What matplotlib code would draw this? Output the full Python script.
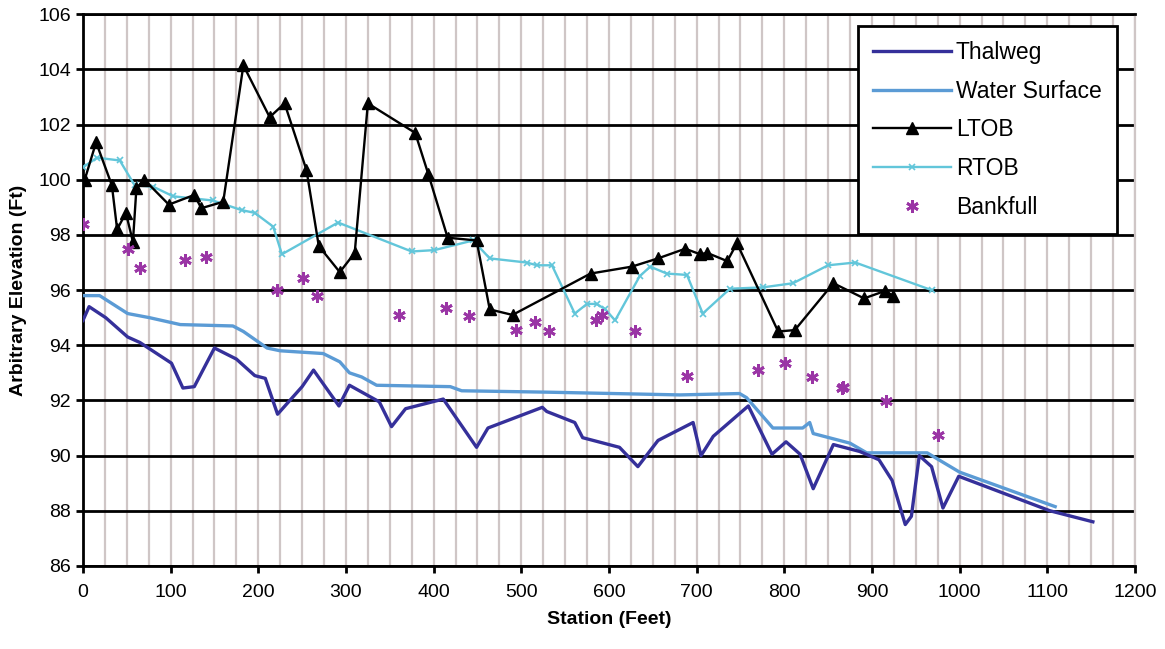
import numpy as np
import matplotlib.pyplot as plt
from matplotlib.ticker import MultipleLocator

plt.rcParams['font.family'] = ['Liberation Sans', 'DejaVu Sans']

# station (ft) / elevation (ft)
thalweg_x = [0, 7, 26, 51, 65, 101, 114, 127, 150, 175, 196, 208, 222, 250, 263, 292, 304,
             338, 352, 368, 411, 449, 462, 524, 529, 561, 570, 612, 633, 656, 696, 705, 719,
             759, 786, 802, 818, 833, 856, 886, 908, 923, 938, 945, 954, 968, 981, 999, 1103, 1152]
thalweg_y = [94.9, 95.4, 95.0, 94.3, 94.1, 93.35, 92.45, 92.5, 93.9, 93.5, 92.9, 92.8, 91.5, 92.5,
             93.1, 91.8, 92.55, 91.95, 91.05, 91.7, 92.05, 90.3, 91.0, 91.75, 91.6, 91.2, 90.65,
             90.3, 89.6, 90.55, 91.2, 90.0, 90.7, 91.8, 90.05, 90.5, 90.05, 88.8, 90.4, 90.15,
             89.85, 89.1, 87.5, 87.8, 90.0, 89.6, 88.1, 89.25, 88.0, 87.6]

water_x = [0, 19, 51, 76, 111, 171, 183, 210, 225, 274, 293, 304, 318, 335, 419, 432, 529, 681,
           749, 757, 787, 821, 829, 833, 875, 894, 932, 963, 1000, 1109]
water_y = [95.8, 95.8, 95.15, 95.0, 94.75, 94.7, 94.5, 93.9, 93.8, 93.7, 93.4, 93.0, 92.85, 92.55,
           92.5, 92.35, 92.3, 92.2, 92.25, 92.1, 91.0, 91.0, 91.2, 90.8, 90.45, 90.1, 90.1, 90.1,
           89.4, 88.15]

ltob_x = [2, 15, 33, 39, 49, 57, 61, 70, 98, 127, 135, 160, 183, 213, 230, 255, 269, 293, 310,
          325, 379, 394, 416, 449, 464, 490, 579, 626, 656, 687, 704, 712, 735, 746, 793, 812,
          856, 891, 915, 924]
ltob_y = [100.0, 101.36, 99.8, 98.2, 98.8, 97.75, 99.7, 100.0, 99.1, 99.45, 98.97, 99.2, 104.15,
          102.27, 102.77, 100.35, 97.6, 96.65, 97.35, 102.77, 101.7, 100.2, 97.9, 97.8, 95.3,
          95.1, 96.6, 96.85, 97.15, 97.5, 97.3, 97.35, 97.05, 97.7, 94.5, 94.55, 96.25, 95.7,
          95.97, 95.8]

rtob_x = [0, 16, 42, 59, 80, 103, 148, 181, 196, 217, 227, 291, 375, 401, 445, 464, 506, 518,
          535, 561, 575, 586, 596, 607, 635, 647, 666, 689, 707, 738, 776, 810, 850, 881, 968]
rtob_y = [100.45, 100.8, 100.7, 99.8, 99.75, 99.4, 99.25, 98.9, 98.8, 98.3, 97.3, 98.45, 97.4,
          97.45, 97.8, 97.15, 97.0, 96.9, 96.9, 95.15, 95.5, 95.5, 95.3, 94.9, 96.5, 96.85, 96.6,
          96.55, 95.15, 96.05, 96.1, 96.25, 96.9, 97.0, 96.0]

bank_x = [0, 51, 65, 116, 140, 221, 251, 267, 360, 414, 440, 494, 516, 532, 585, 592, 630, 689,
          770, 801, 832, 866, 867, 916, 975]
bank_y = [98.4, 97.5, 96.8, 97.1, 97.2, 96.0, 96.45, 95.8, 95.1, 95.35, 95.05, 94.55, 94.85, 94.5,
          94.9, 95.1, 94.5, 92.9, 93.1, 93.35, 92.85, 92.45, 92.5, 91.98, 90.75]

fig = plt.figure(figsize=(11.65, 6.49), dpi=100)
ax = fig.add_axes([0.0712, 0.128, 0.903, 0.850])

ax.plot(thalweg_x, thalweg_y, color='#35309A', lw=2.4, label='Thalweg', zorder=4)
ax.plot(water_x, water_y, color='#5B9BD5', lw=2.4, label='Water Surface', zorder=3)
ax.plot(ltob_x, ltob_y, color='black', lw=1.7, marker='^', ms=8.5, label='LTOB', zorder=5)
ax.plot(rtob_x, rtob_y, color='#62C6DA', lw=1.7, marker='x', ms=5, mew=1.2, label='RTOB', zorder=4)
ax.plot(bank_x, bank_y, ls='none', color='#9A35A5', marker=(6, 2, 0), ms=9, mew=2,
        label='Bankfull', zorder=6)

ax.set_xlim(0, 1200)
ax.set_ylim(86, 106)
ax.xaxis.set_major_locator(MultipleLocator(100))
ax.xaxis.set_minor_locator(MultipleLocator(25))
ax.yaxis.set_major_locator(MultipleLocator(2))

ax.grid(which='minor', axis='x', color='#CFC6C6', lw=1.6)
ax.grid(which='major', axis='x', color='#CFC6C6', lw=1.6)
ax.grid(which='major', axis='y', color='black', lw=2)
ax.set_axisbelow(True)

for s in ['left', 'bottom', 'top']:
    ax.spines[s].set_linewidth(2)
ax.spines['right'].set_color('#CFC6C6')
ax.spines['right'].set_linewidth(1.6)

ax.tick_params(axis='both', which='major', labelsize=14, direction='out', length=5, width=2)
ax.tick_params(axis='x', which='minor', length=0)
ax.tick_params(axis='x', pad=8)

ax.set_xlabel('Station (Feet)', fontsize=14, fontweight='bold', labelpad=7)
ax.set_ylabel('Arbitrary Elevation (Ft)', fontsize=14, fontweight='bold', labelpad=8)

leg = ax.legend(loc='upper right', bbox_to_anchor=(0.9825, 0.978), fontsize=16.5, frameon=True,
                fancybox=False, edgecolor='black', framealpha=1, borderpad=0.65,
                labelspacing=0.68, handlelength=3.4, handletextpad=0.2, borderaxespad=0)
leg.get_frame().set_linewidth(2)

fig.savefig('out.png', dpi=100)
